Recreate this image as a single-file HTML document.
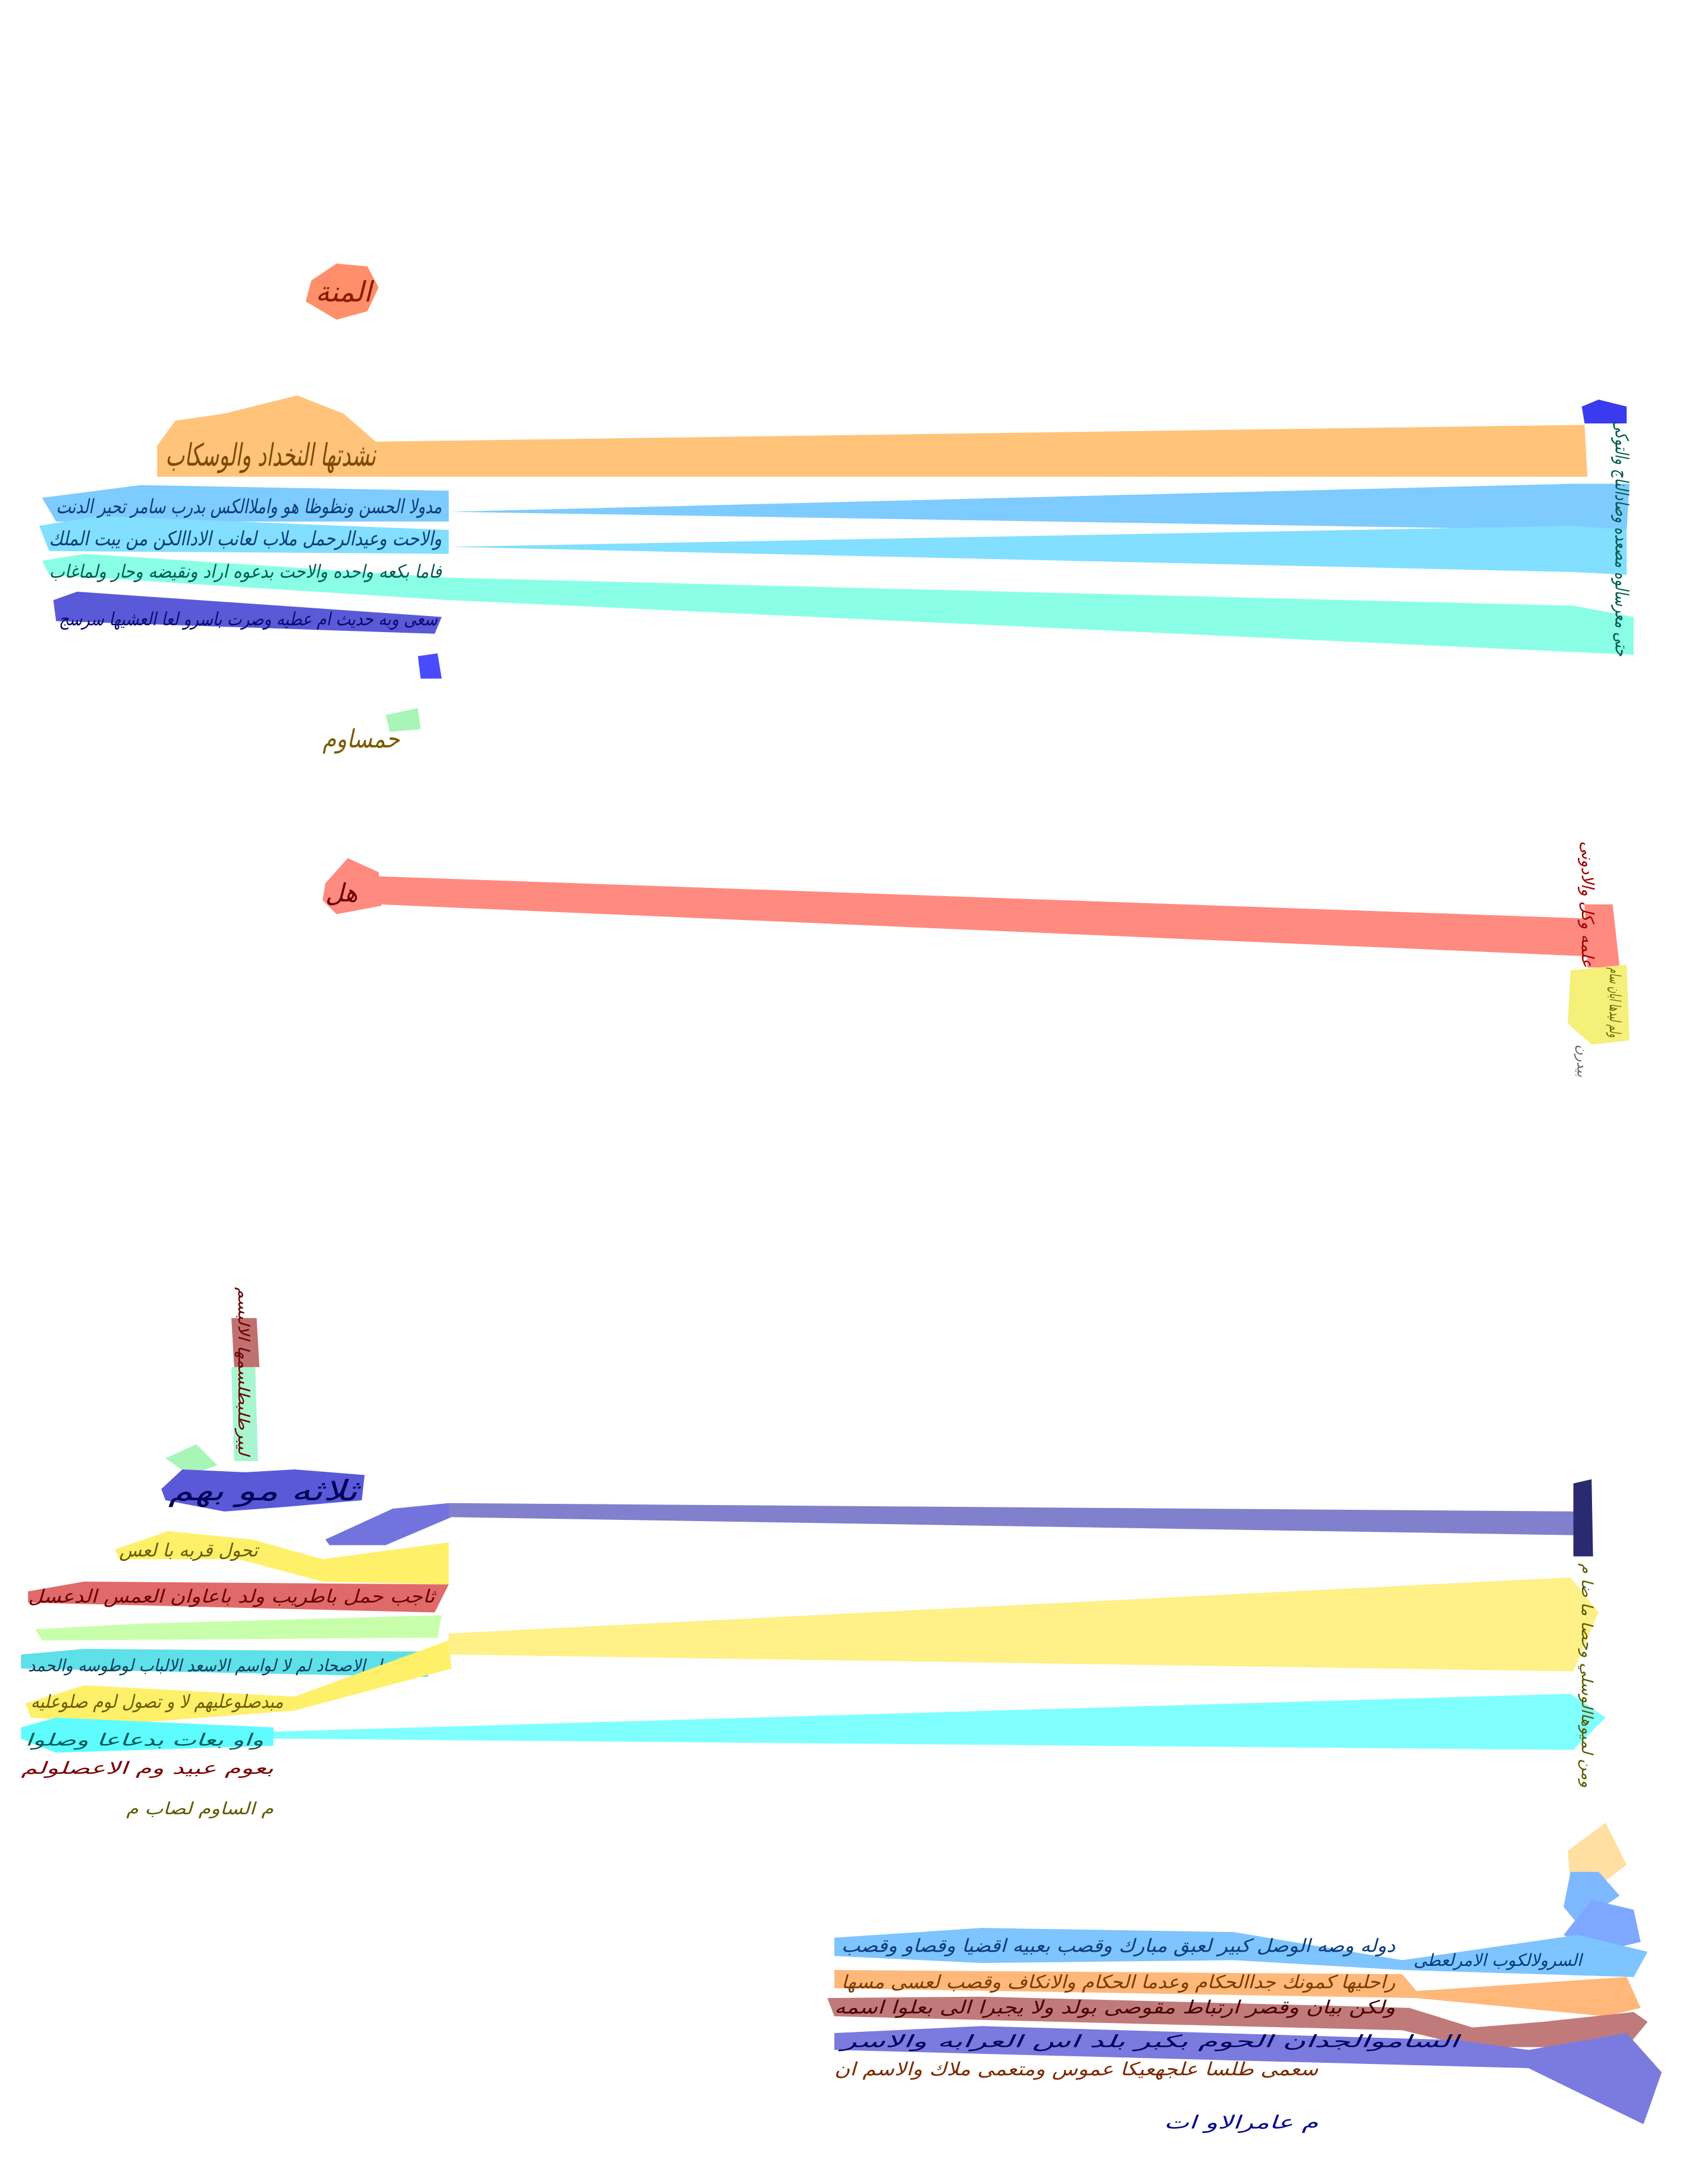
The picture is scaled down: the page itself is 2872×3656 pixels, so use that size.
<!DOCTYPE html>
<html><head><meta charset="utf-8"><style>
html,body{margin:0;padding:0;background:#fff;}
svg{display:block;}
text{font-family:"DejaVu Sans","Liberation Sans",sans-serif;font-style:italic;}
</style></head><body>
<svg width="2872" height="3656" viewBox="0 0 1218 1550.5" xmlns="http://www.w3.org/2000/svg">
<polygon points="222,200 240,188 262,190 270,205 262,222 240,228 218,215" fill="#ff8f6a"/>
<text x="225" y="215" font-size="20" fill="#8a1a00">المنة</text>
<polygon points="112,318 125,300 160,295 212,282 245,295 268,315 268,340 112,340" fill="#ffc47a"/>
<polygon points="268,315 1130,303 1132,340 268,340" fill="#ffc47a"/>
<text x="118" y="332" font-size="22" fill="#7a4a00" textLength="150" lengthAdjust="spacingAndGlyphs">نشدتها النخداد والوسكاب</text>
<polygon points="1128,290 1140,285 1160,290 1160,302 1130,302" fill="#3a3aef"/>
<polygon points="30,355 100,346 320,350 320,372 40,372" fill="#7ecbff"/>
<polygon points="320,365 1122,345 1162,345 1160,378 1122,378" fill="#7ecbff"/>
<polygon points="28,375 70,368 320,378 320,395 35,393" fill="#82dfff"/>
<polygon points="320,390 1122,375 1160,378 1160,410 1122,408" fill="#82dfff"/>
<text x="40" y="366" font-size="14" fill="#0a3a7a" textLength="275" lengthAdjust="spacingAndGlyphs">مدولا الحسن ونظوظا هو واملاالكس بدرب سامر تحير الدنت</text>
<text x="35" y="389" font-size="14" fill="#0a3a7a" textLength="280" lengthAdjust="spacingAndGlyphs">والاحت وعيدالرحمل ملاب لعانب الاداالكن من يبت الملك</text>
<polygon points="30,400 60,395 320,412 320,428 35,410" fill="#8affe6"/>
<polygon points="320,412 1122,432 1165,440 1165,467 1122,465 320,428" fill="#8affe6"/>
<text x="35" y="412" font-size="13" fill="#005a50" textLength="280" lengthAdjust="spacingAndGlyphs">فاما بكعه واحده والاحت بدعوه اراد ونقيضه وحار ولماغاب</text>
<text x="1152" y="300" font-size="13" fill="#005a50" transform="rotate(90 1152 300)" textLength="168" lengthAdjust="spacingAndGlyphs">حتى معرسالوه مصعده وصادالناج والتوكى</text>
<polygon points="38,428 55,422 200,432 315,440 310,452 40,443" fill="#5a5ad8"/>
<text x="42" y="446" font-size="13" fill="#0a0a70" textLength="270" lengthAdjust="spacingAndGlyphs">سعى وبه حديث ام عطيه وصرت باسرو لعا العشيها سرسج</text>
<polygon points="298,468 312,466 315,484 300,484" fill="#4a4aff"/>
<polygon points="275,510 298,505 300,520 278,522" fill="#a8f5b8"/>
<text x="230" y="533" font-size="18" fill="#7a5a00" textLength="55" lengthAdjust="spacingAndGlyphs">حمساوم</text>
<polygon points="232,630 248,612 270,622 272,646 240,652 230,642" fill="#ff8a80"/>
<polygon points="270,625 1130,655 1140,648 1150,665 1132,682 270,645" fill="#ff8a80"/>
<text x="232" y="643" font-size="18" fill="#6a0000">هل</text>
<polygon points="1130,645 1150,645 1155,690 1132,690" fill="#ff8a80"/>
<text x="1128" y="600" font-size="12" fill="#a00000" transform="rotate(90 1128 600)" textLength="90" lengthAdjust="spacingAndGlyphs">علمه وكل والادونى</text>
<polygon points="1120,692 1160,688 1162,742 1135,745 1118,730" fill="#f4f07a"/>
<text x="1148" y="690" font-size="11" fill="#6a6a00" transform="rotate(90 1148 690)" textLength="50" lengthAdjust="spacingAndGlyphs">ولم ليدها ابان سام</text>
<text x="1125" y="745" font-size="10" fill="#666" transform="rotate(90 1125 745)">بيدرن</text>
<polygon points="165,940 183,940 185,975 167,975" fill="#c07070"/>
<polygon points="165,975 182,975 184,1042 167,1042" fill="#a8f5d0"/>
<text x="170" y="918" font-size="11" fill="#6a0000" transform="rotate(90 170 918)" textLength="120" lengthAdjust="spacingAndGlyphs">ليبرطلبطلسمها الالبسم</text>
<polygon points="118,1040 140,1030 155,1045 135,1052" fill="#a8f5b8"/>
<polygon points="115,1062 130,1048 175,1050 210,1048 260,1052 258,1070 200,1075 160,1078 118,1070" fill="#5a5ad8"/>
<text x="120" y="1070" font-size="20" fill="#00005a" textLength="135" lengthAdjust="spacingAndGlyphs">ثلاثه مو بهم</text>
<polygon points="232,1098 280,1076 320,1072 322,1082 275,1102 235,1102" fill="#5a5ad8" opacity=".85"/>
<polygon points="320,1072 1128,1078 1130,1095 320,1082" fill="#8080cc"/>
<polygon points="1122,1058 1135,1055 1136,1110 1122,1110" fill="#2a2a70"/>
<polygon points="82,1105 120,1092 180,1098 230,1112 320,1100 320,1130 230,1128 170,1112 85,1112" fill="#fff06a"/>
<text x="85" y="1110" font-size="13" fill="#6a5a00">تحول قربه با لعس</text>
<polygon points="20,1135 60,1128 320,1130 310,1150 20,1143" fill="#e06a6a"/>
<text x="20" y="1143" font-size="13" fill="#6a0000" textLength="290" lengthAdjust="spacingAndGlyphs">ثاجب حمل باطريب ولد باعاوان العمس الدعسل</text>
<polygon points="25,1162 100,1158 315,1152 312,1168 30,1170" fill="#c8ffaa"/>
<polygon points="15,1180 60,1176 310,1178 305,1196 15,1190" fill="#5ee0e8"/>
<text x="20" y="1192" font-size="12" fill="#0a3a5a" textLength="285" lengthAdjust="spacingAndGlyphs">وماحسل الاصحاد لم لا لواسم الاسعد الالباب لوطوسه والحمد</text>
<polygon points="18,1215 60,1202 210,1210 320,1170 322,1190 210,1220 80,1230 22,1225" fill="#fff06a"/>
<polygon points="320,1165 1120,1125 1140,1150 1122,1192 320,1180" fill="#fff088"/>
<text x="22" y="1218" font-size="13" fill="#6a5a00" textLength="180" lengthAdjust="spacingAndGlyphs">مبدصلوعليهم لا و تصول لوم صلوعليه</text>
<polygon points="15,1232 40,1225 195,1232 195,1245 40,1250 15,1240" fill="#5efcff"/>
<polygon points="195,1235 1120,1208 1145,1225 1122,1248 195,1240" fill="#80ffff"/>
<text x="18" y="1245" font-size="12" fill="#005a5a" textLength="170" lengthAdjust="spacingAndGlyphs">واو بعات بدعاعا وصلوا</text>
<text x="15" y="1265" font-size="12" fill="#7a0000" textLength="180" lengthAdjust="spacingAndGlyphs">بعوم عبيد وم الاعصلولم</text>
<text x="90" y="1294" font-size="12" fill="#5a5a00" textLength="105" lengthAdjust="spacingAndGlyphs">م الساوم لصاب م</text>
<text x="1128" y="1115" font-size="11" fill="#5a5a00" transform="rotate(90 1128 1115)" textLength="160" lengthAdjust="spacingAndGlyphs">ومن لميوهاالوسلي وحصا ما ضا م</text>
<polygon points="1118,1320 1145,1300 1160,1330 1140,1345 1120,1345" fill="#ffd27a" opacity=".7"/>
<polygon points="1120,1335 1140,1335 1155,1352 1125,1372 1115,1360" fill="#7eb8ff"/>
<polygon points="1115,1380 1135,1355 1165,1362 1170,1385 1140,1392" fill="#7ea8ff"/>
<polygon points="595,1382 700,1375 880,1378 1000,1398 1125,1380 1175,1392 1165,1410 1000,1405 880,1398 700,1400 595,1395" fill="#7ec4ff"/>
<text x="600" y="1392" font-size="13" fill="#0a3a7a" textLength="395" lengthAdjust="spacingAndGlyphs">دوله وصه الوصل كبير لعبق مبارك وقصب بعبيه اقضيا وقصاو وقصب</text>
<text x="1008" y="1402" font-size="12" fill="#003a7a" textLength="120" lengthAdjust="spacingAndGlyphs">السرولالكوب الامرلعطى</text>
<polygon points="595,1405 1000,1408 1010,1420 1160,1410 1170,1432 1145,1438 1010,1425 595,1418" fill="#ffb87a"/>
<text x="600" y="1418" font-size="13" fill="#7a3a00" textLength="395" lengthAdjust="spacingAndGlyphs">راحليها كمونك جداالحكام وعدما الحكام والانكاف وقصب لعسى مسها</text>
<polygon points="590,1425 700,1424 1005,1432 1050,1446 1100,1442 1165,1435 1175,1442 1160,1460 1050,1460 1000,1448 595,1438" fill="#c07a7a"/>
<text x="595" y="1436" font-size="13" fill="#4a0000" textLength="400" lengthAdjust="spacingAndGlyphs">ولكن بيان وقصر ارتباط مقوصى بولد ولا يجبرا الى بعلوا اسمه</text>
<polygon points="595,1450 700,1445 1040,1455 1090,1462 1160,1450 1185,1478 1172,1515 1090,1475 595,1462" fill="#7a7adf"/>
<text x="600" y="1460" font-size="12" fill="#00005a" textLength="440" lengthAdjust="spacingAndGlyphs">الساموالجدان الحوم بكبر بلد اس العرابه والاسر</text>
<text x="595" y="1480" font-size="13" fill="#7a2a00" textLength="345" lengthAdjust="spacingAndGlyphs">سعمى طلسا علجهعيكا عموس ومتعمى ملاك والاسم ان</text>
<text x="830" y="1518" font-size="13" fill="#0a0a8a" textLength="110" lengthAdjust="spacingAndGlyphs">م عامرالاو ات</text>
</svg>
</body></html>
